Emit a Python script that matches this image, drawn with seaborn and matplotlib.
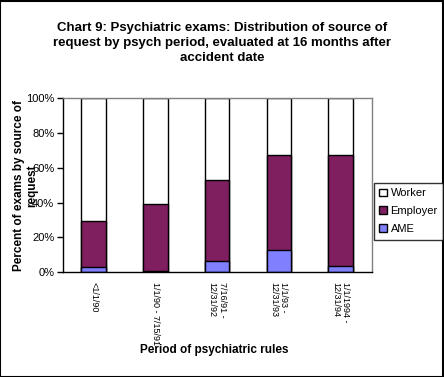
import matplotlib
matplotlib.use("Agg")
import matplotlib.pyplot as plt
import matplotlib.ticker as ticker
from matplotlib.patches import Patch, Rectangle
import pandas as pd
import seaborn as sns

# Datos (porcentaje por periodo)
periodos = ["<1/1/90", "1/1/90 - 7/15/91", "7/16/91 -\n12/31/92",
            "1/1/93 -\n12/31/93", "1/1/1994 -\n12/31/94"]
ame = [2.9, 0.6, 6.3, 12.6, 3.4]
employer = [26.4, 38.5, 46.6, 54.6, 63.8]
worker = [70.7, 60.9, 47.1, 32.8, 32.8]

colores = {"Worker": "#FFFFFF", "Employer": "#7F1F5F", "AME": "#8080FF"}

df = pd.DataFrame({"periodo": periodos, "AME": ame,
                   "Employer": employer, "Worker": worker})
df["tope_employer"] = df["AME"] + df["Employer"]
df["tope_worker"] = df["tope_employer"] + df["Worker"]

sns.set_theme(style="white")
plt.rcParams["font.family"] = ["Liberation Sans", "DejaVu Sans"]
plt.rcParams["text.color"] = "black"
plt.rcParams["axes.labelcolor"] = "black"
plt.rcParams["xtick.color"] = "black"
plt.rcParams["ytick.color"] = "black"

fig = plt.figure(figsize=(4.44, 3.77), dpi=100)
ax = fig.add_axes([0.141, 0.278, 0.696, 0.461])

# barras apiladas: se dibuja de la más alta a la más baja
for col, serie in [("tope_worker", "Worker"), ("tope_employer", "Employer"), ("AME", "AME")]:
    sns.barplot(data=df, x="periodo", y=col, color=colores[serie], saturation=1,
                edgecolor="black", linewidth=1, width=0.4, ax=ax)

ax.set_ylim(0, 100)
ax.set_xlim(-0.5, 4.5)
ax.yaxis.set_major_locator(ticker.MultipleLocator(20))
ax.yaxis.set_major_formatter(ticker.FuncFormatter(lambda v, p: f"{int(v)}%"))

# marcas del eje x entre categorías
ax.set_xticks(range(len(periodos)))
ax.set_xticklabels(periodos, rotation=270, ha="center", va="top",
                   multialignment="left", fontsize=6.5, linespacing=1.15,
                   family=["Liberation Sans Narrow", "Liberation Sans", "DejaVu Sans"])
ax.set_xticks([i - 0.5 for i in range(len(periodos) + 1)], minor=True)
ax.tick_params(axis="x", which="major", length=0, pad=7)
ax.tick_params(axis="x", which="minor", length=4, width=1, color="black", direction="out")
ax.tick_params(axis="y", length=4, width=1, color="black", direction="out",
               labelsize=8, pad=2, left=True)

for s in ["left", "bottom"]:
    ax.spines[s].set_color("black")
    ax.spines[s].set_linewidth(1)
for s in ["top", "right"]:
    ax.spines[s].set_color("#808080")
    ax.spines[s].set_linewidth(1)

ax.set_ylabel("Percent of exams by source of\nrequest", fontsize=8.5,
              fontweight="bold", va="center", linespacing=1.15)
ax.yaxis.set_label_coords(-0.119, 0.5)
ax.set_xlabel("Period of psychiatric rules", fontsize=8.5, fontweight="bold", va="center")
ax.xaxis.set_label_coords(0.49, -0.447)

fig.text(0.5, 0.886, "Chart 9: Psychiatric exams: Distribution of source of\n"
         "request by psych period, evaluated at 16 months after\naccident date",
         ha="center", va="center", fontsize=9.5, fontweight="bold", linespacing=1.3)

handles = [Patch(facecolor=colores[k], edgecolor="black", label=k)
           for k in ["Worker", "Employer", "AME"]]
leg = fig.legend(handles=handles, loc="upper left", bbox_to_anchor=(0.842, 0.515),
                 fontsize=8, frameon=True, fancybox=False, handlelength=0.7,
                 handleheight=0.7, handletextpad=0.3, labelspacing=0.7,
                 borderpad=0.5, borderaxespad=0)
leg.get_frame().set_edgecolor("black")
leg.get_frame().set_linewidth(1)

fig.patches.append(Rectangle((0.001, 0.001), 0.997, 0.997, transform=fig.transFigure,
                             fill=False, edgecolor="black", linewidth=1.5))

fig.savefig("out.png", dpi=100)
